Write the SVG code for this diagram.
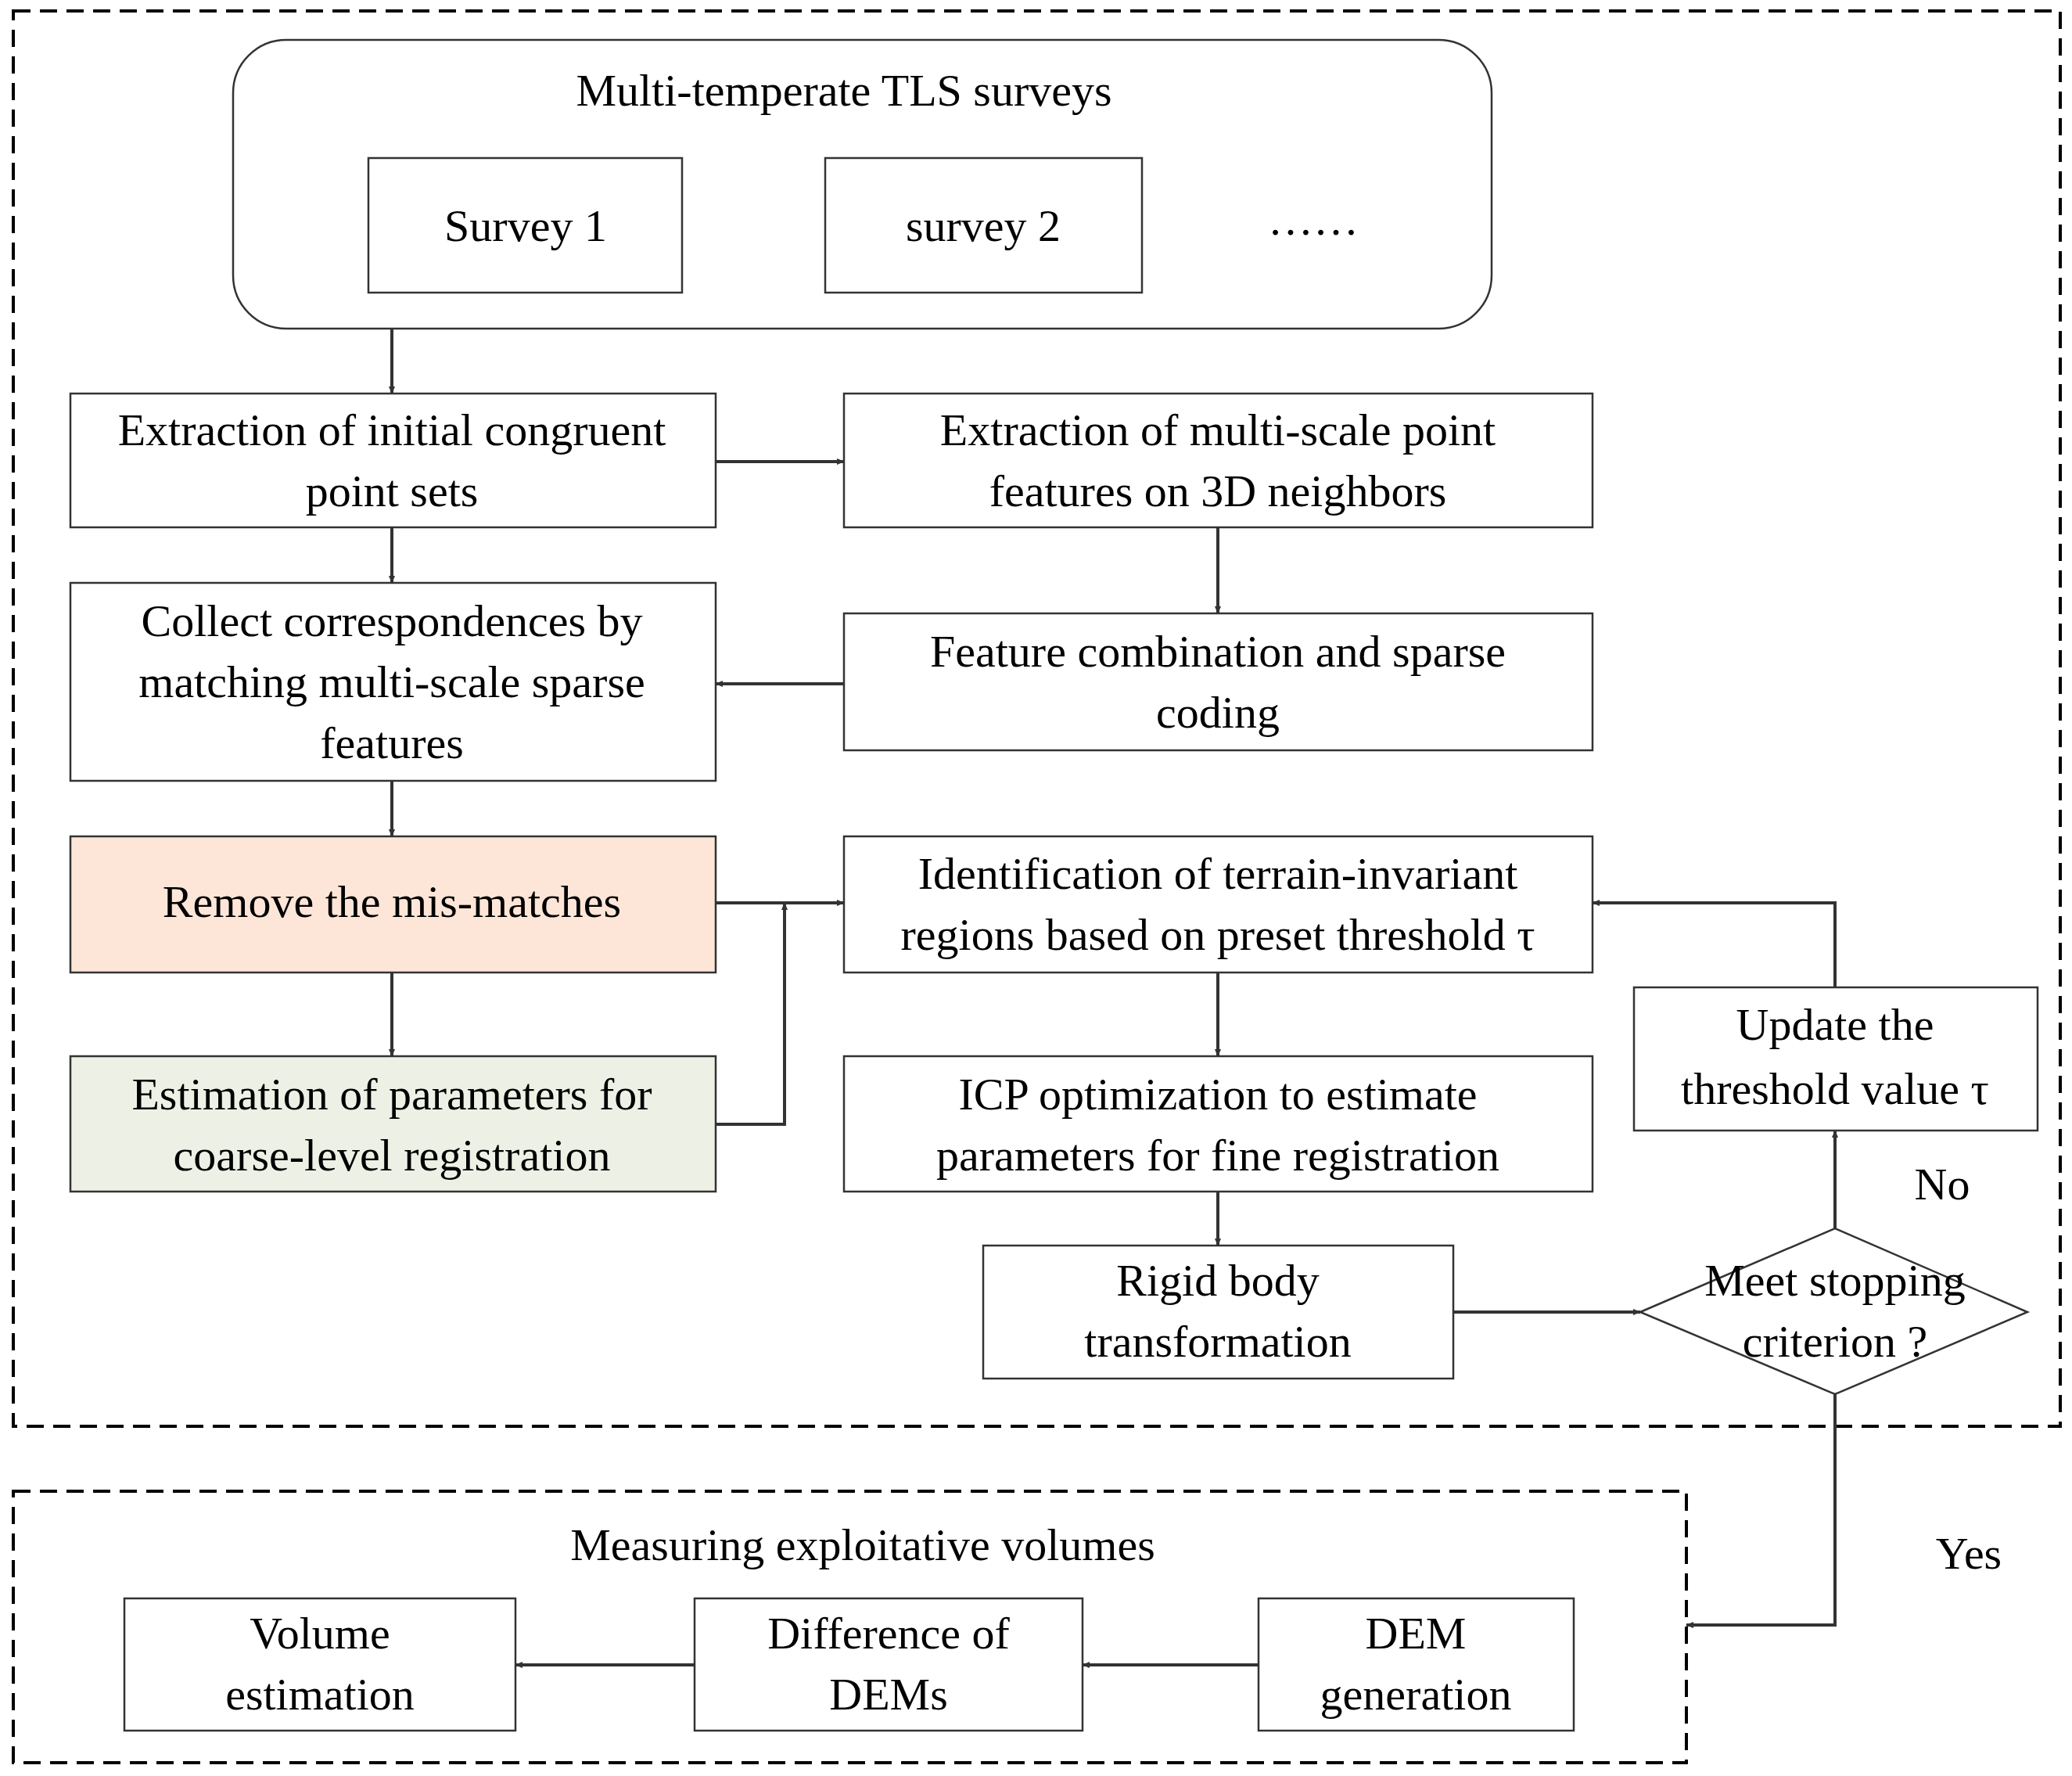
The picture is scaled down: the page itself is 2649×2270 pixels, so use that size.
<svg xmlns="http://www.w3.org/2000/svg" width="2649" height="2270" viewBox="0 0 2649 2270">
<style>
text{font-family:"Liberation Serif","Times New Roman",serif;font-size:58px;fill:#000;text-anchor:middle;dominant-baseline:central}
.b{fill:#fff;stroke:#333;stroke-width:2.5}
.d{fill:none;stroke:#000;stroke-width:4;stroke-dasharray:22 12}
.c{fill:none;stroke:#333;stroke-width:4}
</style>
<defs><marker id="a" markerWidth="10" markerHeight="8" refX="9" refY="4" orient="auto" markerUnits="userSpaceOnUse" viewBox="0 0 10 8"><path d="M0,0L10,4L0,8z" fill="#333"/></marker></defs>
<rect class="d" x="17" y="14" width="2617" height="1809"/>
<rect class="d" x="17" y="1906" width="2139" height="347"/>
<g id="top"><rect class="b" x="298" y="51" width="1609" height="369" rx="68"/><text x="1079" y="115">Multi-temperate TLS surveys</text></g>
<g id="s1"><rect class="b" x="471" y="202" width="401" height="172"/><text x="672" y="288">Survey 1</text></g>
<g id="s2"><rect class="b" x="1055" y="202" width="405" height="172"/><text x="1257" y="288">survey 2</text></g>
<g id="dots"><text x="1679" y="280">……</text></g>
<g id="A"><rect class="b" x="90" y="503" width="825" height="171"/><text x="501" y="549">Extraction of initial congruent</text><text x="501" y="627">point sets</text></g>
<g id="B"><rect class="b" x="1079" y="503" width="957" height="171"/><text x="1557" y="549">Extraction of multi-scale point</text><text x="1557" y="627">features on 3D neighbors</text></g>
<g id="C"><rect class="b" x="90" y="745" width="825" height="253"/><text x="501" y="793">Collect correspondences by</text><text x="501" y="871">matching multi-scale sparse</text><text x="501" y="949">features</text></g>
<g id="D"><rect class="b" x="1079" y="784" width="957" height="175"/><text x="1557" y="832">Feature combination and sparse</text><text x="1557" y="910">coding</text></g>
<g id="E"><rect class="b" style="fill:#fde6d8" x="90" y="1069" width="825" height="174"/><text x="501" y="1152">Remove  the mis-matches</text></g>
<g id="F"><rect class="b" style="fill:#edf1e5" x="90" y="1350" width="825" height="173"/><text x="501" y="1398">Estimation of parameters for</text><text x="501" y="1476">coarse-level registration</text></g>
<g id="G"><rect class="b" x="1079" y="1069" width="957" height="174"/><text x="1557" y="1116">Identification of terrain-invariant</text><text x="1557" y="1194">regions based on preset threshold τ</text></g>
<g id="H"><rect class="b" x="1079" y="1350" width="957" height="173"/><text x="1557" y="1398">ICP optimization to estimate</text><text x="1557" y="1476">parameters for fine registration</text></g>
<g id="I"><rect class="b" x="1257" y="1592" width="601" height="170"/><text x="1557" y="1636">Rigid body</text><text x="1557" y="1714">transformation</text></g>
<g id="J"><polygon class="b" points="2097,1677 2346,1570 2592,1677 2346,1782"/><text x="2346" y="1636">Meet stopping</text><text x="2346" y="1714">criterion ?</text></g>
<g id="K"><rect class="b" x="2089" y="1262" width="516" height="183"/><text x="2346" y="1309">Update the</text><text x="2346" y="1391">threshold value  τ</text></g>
<g id="M"><text x="1103" y="1974">Measuring exploitative volumes</text></g>
<g id="N"><rect class="b" x="1609" y="2043" width="403" height="169"/><text x="1810" y="2087">DEM</text><text x="1810" y="2165">generation</text></g>
<g id="O"><rect class="b" x="888" y="2043" width="496" height="169"/><text x="1136" y="2087">Difference of</text><text x="1136" y="2165">DEMs</text></g>
<g id="P"><rect class="b" x="159" y="2043" width="500" height="169"/><text x="409" y="2087">Volume</text><text x="409" y="2165">estimation</text></g>
<g id="labels"><text x="2483" y="1513">No</text><text x="2517" y="1985">Yes</text></g>
<g id="connectors" marker-end="url(#a)">
<path class="c" d="M501,420V503"/>
<path class="c" d="M915,590H1079"/>
<path class="c" d="M501,674V745"/>
<path class="c" d="M1557,674V784"/>
<path class="c" d="M1079,874H915"/>
<path class="c" d="M501,998V1069"/>
<path class="c" d="M501,1243V1350"/>
<path class="c" d="M915,1154H1079"/>
<path class="c" d="M915,1437H1003V1154"/>
<path class="c" d="M1557,1243V1350"/>
<path class="c" d="M1557,1523V1592"/>
<path class="c" d="M1858,1677H2097"/>
<path class="c" d="M2346,1570V1445"/>
<path class="c" d="M2346,1262V1154H2036"/>
<path class="c" d="M2346,1782V2077H2156"/>
<path class="c" d="M1609,2128H1384"/>
<path class="c" d="M888,2128H659"/>
</g>
</svg>
